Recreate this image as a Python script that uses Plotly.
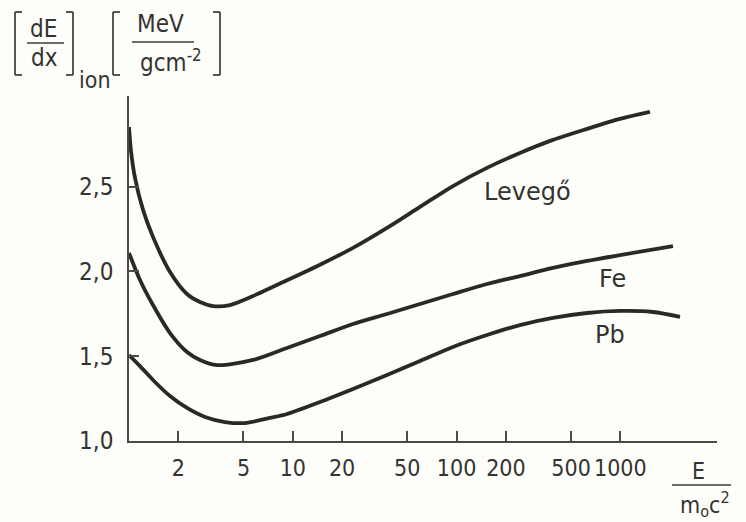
import plotly.graph_objects as go

# ---- data ----
levego_E = [1.0, 1.03, 1.088, 1.218, 1.401, 1.780, 2.260, 2.713, 3.257, 4.136, 5.715, 9.218,
            14.66, 23.31, 37.60, 59.79, 95.07, 153.3, 243.8, 387.7, 625.4, 994.5, 1516]
levego_y = [2.852, 2.705, 2.552, 2.363, 2.204, 1.997, 1.867, 1.820, 1.796, 1.802, 1.855, 1.948,
            2.040, 2.139, 2.257, 2.381, 2.504, 2.611, 2.699, 2.776, 2.841, 2.900, 2.941]

fe_E = [1.0, 1.167, 1.401, 1.780, 2.260, 2.713, 3.445, 5.715, 9.218, 14.66, 23.31, 37.60,
        59.79, 95.07, 153.3, 243.8, 387.7, 625.4, 994.5, 2095]
fe_y = [2.109, 1.950, 1.802, 1.637, 1.525, 1.478, 1.448, 1.478, 1.549, 1.619, 1.690, 1.749,
        1.808, 1.867, 1.926, 1.973, 2.021, 2.062, 2.097, 2.150]

pb_E = [1.0, 1.167, 1.401, 1.780, 2.260, 2.911, 3.856, 5.109, 7.258, 9.218, 14.66, 23.31,
        37.60, 59.79, 95.07, 153.3, 243.8, 387.7, 625.4, 994.5, 1581, 2312]
pb_y = [1.507, 1.442, 1.360, 1.265, 1.195, 1.142, 1.112, 1.106, 1.136, 1.159, 1.230, 1.307,
        1.389, 1.472, 1.555, 1.625, 1.684, 1.726, 1.755, 1.767, 1.761, 1.732]

x_tick_vals = [2, 5, 10, 20, 50, 100, 200, 500, 1000]
x_tick_text = ["2", "5", "10", "20", "50", "100", "200", "500", "1000"]
y_tick_vals = [1.0, 1.5, 2.0, 2.5]
y_tick_text = ["1,0", "1,5", "2,0", "2,5"]

series_names = ["Levegő", "Fe", "Pb"]

# ---- styling ----
W, H = 746, 522
L, R, T, B = 129, 717, 96, 441  # plot area in pixels
INK = "#2a2a25"
AXC = "#4a4a46"
TXT = "#333330"
BG = "#fdfdfa"
FONT = "Liberation Sans Narrow, Arial Narrow, DejaVu Sans Condensed, Roboto, sans-serif"
LFONT = "DejaVu Sans, Verdana, sans-serif"


def px(x):
    return (x - L) / (R - L)


def py(y):
    return (B - y) / (B - T)


fig = go.Figure()
for E, y, name in zip([levego_E, fe_E, pb_E], [levego_y, fe_y, pb_y], series_names):
    fig.add_trace(go.Scatter(x=E, y=y, mode="lines", name=name,
                             line=dict(color=INK, width=3.8, shape="spline", smoothing=0.8),
                             showlegend=False, hoverinfo="skip"))

annotations = []


def txt(s, x, y, size=22, family=FONT):
    annotations.append(dict(text=s, x=px(x), y=py(y), xref="paper", yref="paper",
                            showarrow=False, xanchor="center", yanchor="middle",
                            font=dict(family=family, size=size, color=TXT)))


# curve labels
txt("Levegő", 527, 192, 24, LFONT)
txt("Fe", 612, 279, 24, LFONT)
txt("Pb", 610, 335, 24, LFONT)

# y-axis title: [dE/dx]_ion [MeV / g cm^-2]
txt("dE", 43, 29, 24)
txt("dx", 44, 58, 24)
txt("ion", 95, 80, 23)
txt("MeV", 160, 24, 24)
txt("gcm<sup>-2</sup>", 171, 61, 24)

# x-axis title: E / m0 c^2
txt("E", 698, 471, 23)
txt("m<sub>o</sub>c<sup>2</sup>", 705, 504, 23)

shapes = []


def seg(x0, y0, x1, y1, w=1.7):
    shapes.append(dict(type="line", xref="paper", yref="paper",
                       x0=px(x0), y0=py(y0), x1=px(x1), y1=py(y1),
                       line=dict(color="#3a3a36", width=w)))


def bracket(x, y0, y1, d):
    seg(x, y0, x, y1)
    seg(x, y0, x + d, y0)
    seg(x, y1, x + d, y1)


bracket(15, 12, 75, 7)
bracket(73, 12, 75, -7)
bracket(113, 12, 75, 7)
bracket(220, 12, 75, -7)
seg(27, 43, 64, 43, 1.5)
seg(132, 42, 194, 42, 1.5)
seg(672, 485, 731, 485, 1.5)

fig.update_layout(
    width=W, height=H, autosize=False,
    margin=dict(l=L, r=W - R, t=T, b=H - B, pad=0),
    paper_bgcolor=BG, plot_bgcolor=BG,
    font=dict(family=FONT, size=22, color=TXT),
    annotations=annotations, shapes=shapes,
    xaxis=dict(type="log", range=[0, 3.59], tickvals=x_tick_vals, ticktext=x_tick_text,
               ticks="inside", ticklen=10, tickwidth=1.5, tickcolor=AXC, tickangle=0,
               showline=True, linecolor=AXC, linewidth=1.6, showgrid=False, zeroline=False,
               ticklabelstandoff=6, tickfont=dict(family=FONT, size=23, color=TXT)),
    yaxis=dict(range=[1.0, 3.035], tickvals=y_tick_vals, ticktext=y_tick_text,
               ticks="inside", ticklen=10, tickwidth=1.5, tickcolor=AXC,
               showline=True, linecolor=AXC, linewidth=1.6, showgrid=False, zeroline=False,
               ticklabelstandoff=9, tickfont=dict(family=FONT, size=24, color=TXT)),
)

fig.write_html("out.html", config={"displayModeBar": False},
               post_script="document.body.style.margin='0';document.body.style.overflow='hidden';")
